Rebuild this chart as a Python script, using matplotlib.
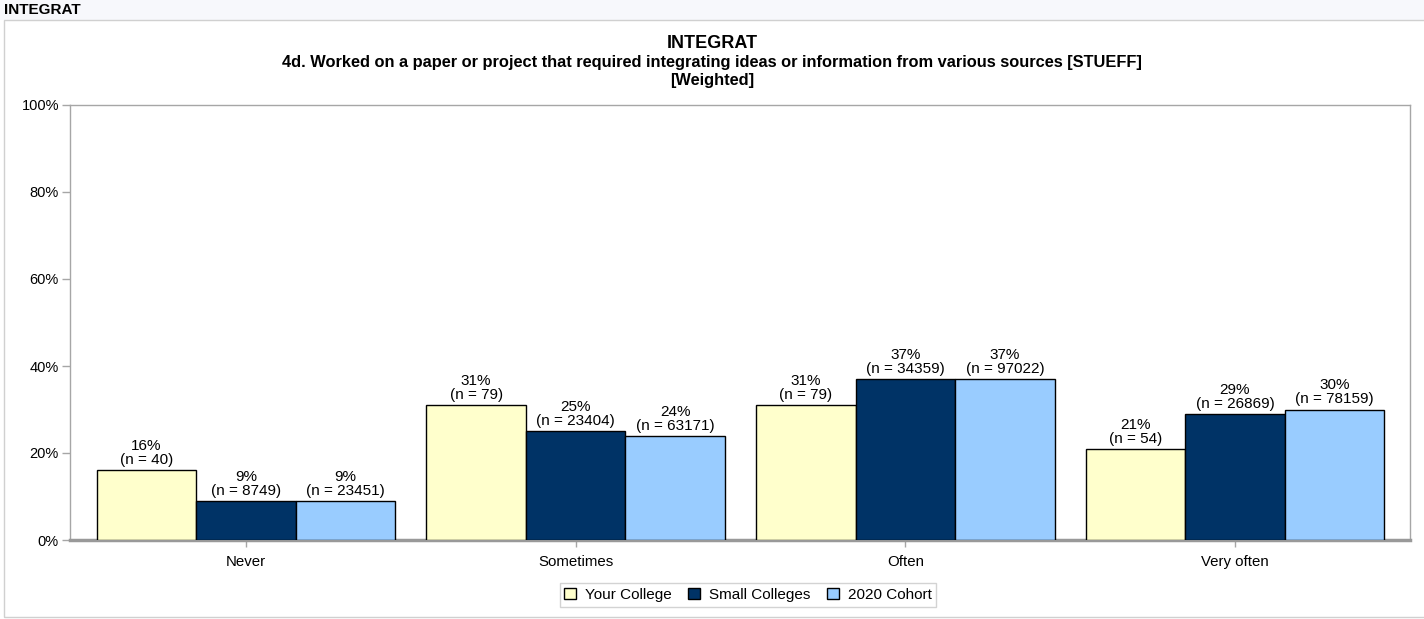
import numpy as np
import matplotlib.pyplot as plt
from matplotlib.patches import Rectangle

plt.rcParams['font.family'] = ['Liberation Sans', 'DejaVu Sans']

# Response categories and the three comparison groups
categories = ['Never', 'Sometimes', 'Often', 'Very often']
groups = ['Your College', 'Small Colleges', '2020 Cohort']
pct_your = [16, 31, 31, 21]
pct_small = [9, 25, 37, 29]
pct_cohort = [9, 24, 37, 30]
n_your = [40, 79, 79, 54]
n_small = [8749, 23404, 34359, 26869]
n_cohort = [23451, 63171, 97022, 78159]

colors = ['#ffffcc', '#003366', '#99ccff']
grid_gray = '#a6a6a6'

fig = plt.figure(figsize=(14.24, 6.19), dpi=100)

# page banner and outer frame
fig.patches.append(Rectangle((0, 1 - 20 / 619), 1, 20 / 619, transform=fig.transFigure,
                             facecolor='#f7f8fc', edgecolor='none', zorder=0))
fig.patches.append(Rectangle((4 / 1424, 2 / 619), 1.0, 1 - 22 / 619, transform=fig.transFigure,
                             facecolor='none', edgecolor='#d0d0d0', lw=1, zorder=0))
fig.text(4 / 1424, 1 - 10 / 619, 'INTEGRAT', fontsize=11, fontweight='bold', va='center', ha='left')

# plot area: 70..1410 px horizontally, 105..540 px vertically
ax = fig.add_axes([70 / 1424, (619 - 540) / 619, 1340 / 1424, 435 / 619])

x = np.arange(len(categories))
w = 0.302
series = [(pct_your, n_your), (pct_small, n_small), (pct_cohort, n_cohort)]
for i, (pct, n) in enumerate(series):
    xs = x + (i - 1) * w
    ax.bar(xs, pct, width=w, color=colors[i], edgecolor='black', linewidth=1,
           label=groups[i], zorder=3)
    for xi, p, ni in zip(xs, pct, n):
        ax.text(xi, p + 0.7, f'{p}%\n(n = {ni})', ha='center', va='bottom',
                fontsize=11, linespacing=1.0, zorder=4)

ax.set_xlim(-0.534, 3.531)
ax.set_ylim(0, 100)
ax.set_yticks(range(0, 101, 20))
ax.set_yticklabels([f'{v}%' for v in range(0, 101, 20)])
ax.set_xticks(x)
ax.set_xticklabels(categories)
ax.tick_params(axis='y', colors=grid_gray, labelcolor='black', labelsize=10.5, length=6, width=1, pad=2)
ax.tick_params(axis='x', colors=grid_gray, labelcolor='black', labelsize=10.8, length=5, width=1, pad=6)
for s in ['left', 'top', 'right']:
    ax.spines[s].set_color(grid_gray)
    ax.spines[s].set_linewidth(1)
ax.spines['bottom'].set_color('#999999')
ax.spines['bottom'].set_linewidth(2.5)

fig.text(0.5, 1 - 44 / 619, 'INTEGRAT', ha='center', va='center', fontsize=13, fontweight='bold')
fig.text(0.5, 1 - 62 / 619,
         '4d. Worked on a paper or project that required integrating ideas or information from various sources [STUEFF]',
         ha='center', va='center', fontsize=11.8, fontweight='bold')
fig.text(0.5, 1 - 81 / 619, '[Weighted]', ha='center', va='center', fontsize=11.8, fontweight='bold')

leg = fig.legend(loc='center', bbox_to_anchor=(748 / 1424, 1 - 595 / 619), ncol=3,
                 fontsize=11, frameon=True, fancybox=False, edgecolor='#c8c8c8',
                 handlelength=0.75, handleheight=0.75, handletextpad=0.6, columnspacing=1.1,
                 borderpad=0.3)
leg.get_frame().set_linewidth(1)

fig.savefig('out.png', dpi=100)
